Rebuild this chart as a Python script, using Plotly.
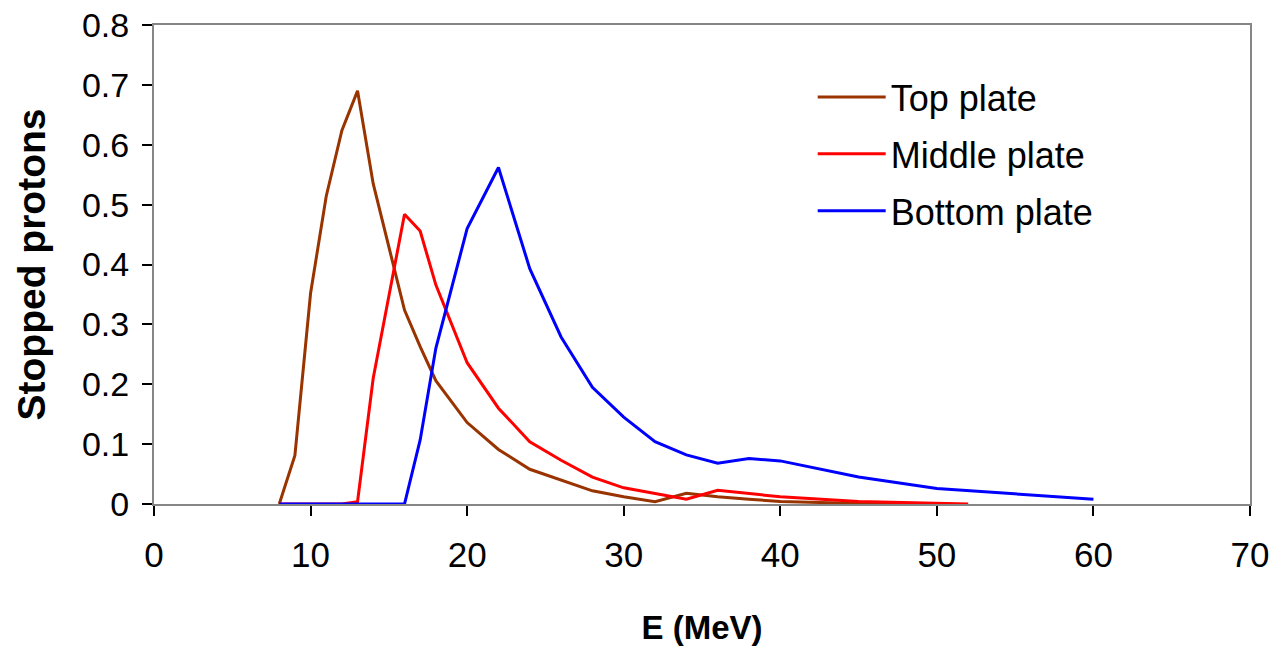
import plotly.graph_objects as go

# Energy grid (MeV) and stopped-proton fractions per plate
E_top = [8, 9, 10, 11, 12, 13, 14, 16, 17, 18, 20, 22, 24, 26, 28, 30, 32, 34, 36, 38, 40, 45, 50]
top_plate = [0, 0.081, 0.352, 0.514, 0.624, 0.69, 0.535, 0.324, 0.263, 0.206, 0.136, 0.091,
             0.058, 0.040, 0.022, 0.012, 0.004, 0.018, 0.012, 0.008, 0.004, 0.001, 0]

E_mid = [8, 9, 10, 11, 12, 13, 14, 16, 17, 18, 20, 22, 24, 26, 28, 30, 32, 34, 36, 38, 40, 45, 50, 52]
middle_plate = [0, 0, 0, 0, 0, 0.004, 0.21, 0.484, 0.456, 0.366, 0.236, 0.160, 0.104, 0.073,
                0.045, 0.027, 0.018, 0.008, 0.023, 0.018, 0.012, 0.004, 0.001, 0]

E_bot = [8, 9, 10, 11, 12, 13, 14, 16, 17, 18, 20, 22, 24, 26, 28, 30, 32, 34, 36, 38, 40, 45, 50, 60]
bottom_plate = [0, 0, 0, 0, 0, 0, 0, 0, 0.107, 0.26, 0.46, 0.562, 0.393, 0.279, 0.195, 0.145,
                0.104, 0.082, 0.068, 0.076, 0.072, 0.045, 0.026, 0.008]

series_names = ["Top plate", "Middle plate", "Bottom plate"]
series_colors = ["#993300", "#FF0000", "#0000FF"]

x_ticks = [0, 10, 20, 30, 40, 50, 60, 70]
y_ticks = [0, 0.1, 0.2, 0.3, 0.4, 0.5, 0.6, 0.7, 0.8]
y_tick_text = ["0", "0.1", "0.2", "0.3", "0.4", "0.5", "0.6", "0.7", "0.8"]

FONT = "Liberation Sans, Arial, sans-serif"

fig = go.Figure()
for i, (xs, ys) in enumerate([(E_top, top_plate), (E_mid, middle_plate), (E_bot, bottom_plate)]):
    fig.add_trace(go.Scatter(
        x=xs, y=ys, mode="lines", name=series_names[i],
        line=dict(color=series_colors[i], width=3),
        legendgroup=series_names[i],
    ))

fig.update_layout(
    width=1274, height=648,
    margin=dict(l=154, r=24, t=25, b=144, autoexpand=False),
    paper_bgcolor="white", plot_bgcolor="white",
    font=dict(family=FONT, color="black"),
    showlegend=True,
    legend=dict(
        x=0.601, y=0.912, xanchor="left", yanchor="top",
        font=dict(family=FONT, size=36, color="black"),
        bgcolor="rgba(0,0,0,0)",
        itemwidth=68,
        tracegroupgap=7,
        traceorder="grouped",
    ),
    xaxis=dict(
        range=[0, 70], tickvals=x_ticks, ticktext=[str(v) for v in x_ticks],
        showgrid=False, zeroline=False, automargin=False,
        showline=True, linecolor="#868686", linewidth=2, mirror=True,
        ticks="outside", ticklen=10, tickcolor="black", tickwidth=1.5,
        tickfont=dict(family=FONT, size=35, color="black"),
        ticklabelstandoff=9, ticklabeloverflow="allow",
        layer="below traces",
        title=dict(text="<b>E (MeV)</b>", font=dict(family=FONT, size=33, color="black"), standoff=43),
    ),
    yaxis=dict(
        range=[0, 0.8], tickvals=y_ticks, ticktext=y_tick_text,
        showgrid=False, zeroline=False, automargin=False,
        showline=True, linecolor="#868686", linewidth=2, mirror=True,
        ticks="outside", ticklen=10, tickcolor="black", tickwidth=1.5,
        tickfont=dict(family=FONT, size=34, color="black"),
        ticklabelstandoff=6, ticklabeloverflow="allow",
        layer="below traces",
        title=dict(text="<b>Stopped protons</b>", font=dict(family=FONT, size=39, color="black"), standoff=24),
    ),
)

fig.write_html(
    "out.html",
    config={"displayModeBar": False},
    post_script="document.body.style.margin='0';document.body.style.overflow='hidden';",
)
